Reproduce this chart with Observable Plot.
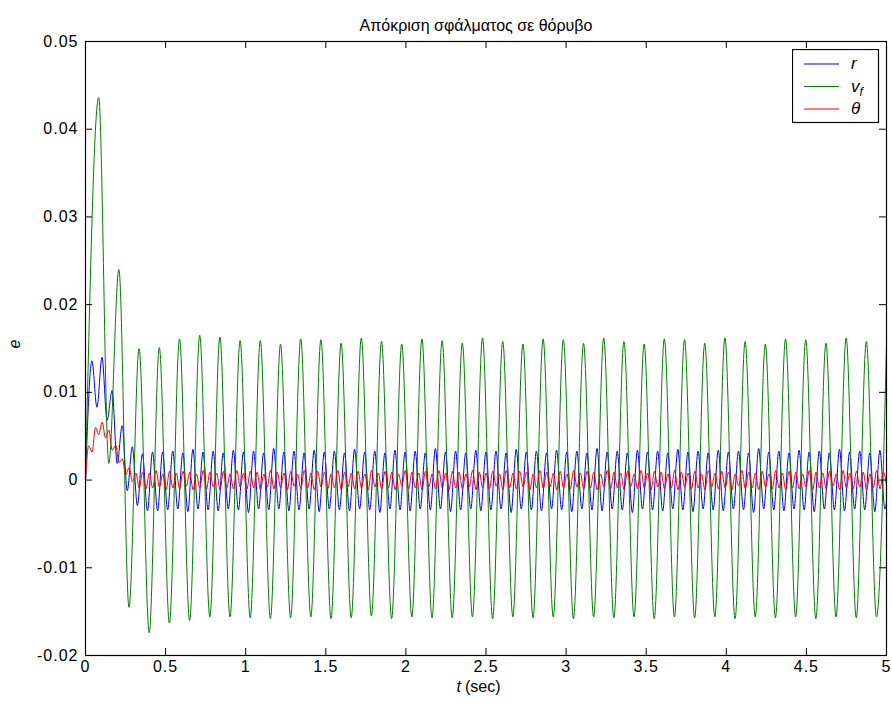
<!DOCTYPE html>
<html>
<head>
<meta charset="utf-8">
<script src="https://cdn.jsdelivr.net/npm/d3@7"></script>
<script src="https://cdn.jsdelivr.net/npm/@observablehq/plot@0.6"></script>
<style>
  html, body { margin: 0; padding: 0; background: #fff; }
  #wrap { position: relative; width: 892px; height: 707px; font-family: "Liberation Sans", Arial, sans-serif; }
  #legend { position: absolute; left: 792px; top: 49px; }
  #chart svg [aria-label="x-axis tick label"] text,
  #chart svg [aria-label="y-axis tick label"] text { letter-spacing: 1px; }
</style>
</head>
<body>
<div id="wrap">
  <div id="chart"></div>
  <div id="legend"></div>
</div>
<script>
// ---- Data ----
const titleText = "Απόκριση σφάλματος σε θόρυβο";
const xTicks = [0, 0.5, 1, 1.5, 2, 2.5, 3, 3.5, 4, 4.5, 5];
const yTicks = [-0.02, -0.01, 0, 0.01, 0.02, 0.03, 0.04, 0.05];
const seriesNames = ["r", "v_f", "θ"];

// Each series: value at t = 0, then successive peak / trough values,
// sampled every half oscillation period (start time and spacing below).
const rStartTime = 0.040, rSpacing = 0.03153;
const rValues = [0,
  0.0136, 0.0083, 0.0140, 0.0068, 0.0102, 0.0019, 0.0062, -0.0012, 0.0038, -0.0029, 0.0030, -0.0035, 0.0032, -0.0035,
  0.0032, -0.0034, 0.0033, -0.0033, 0.0031, -0.0036, 0.0035, -0.0033, 0.0032, -0.0034,
  0.0033, -0.0035, 0.0031, -0.0033, 0.0034, -0.0034, 0.0032, -0.0037, 0.0033, -0.0033,
  0.0031, -0.0034, 0.0036, -0.0033, 0.0032, -0.0035, 0.0033, -0.0034, 0.0031, -0.0033,
  0.0034, -0.0036, 0.0032, -0.0033, 0.0033, -0.0034, 0.0031, -0.0035, 0.0035, -0.0033,
  0.0032, -0.0034, 0.0033, -0.0037, 0.0031, -0.0033, 0.0034, -0.0034, 0.0032, -0.0035,
  0.0033, -0.0033, 0.0031, -0.0034, 0.0036, -0.0033, 0.0032, -0.0036, 0.0033, -0.0034,
  0.0031, -0.0033, 0.0034, -0.0035, 0.0032, -0.0034, 0.0033, -0.0033, 0.0031, -0.0037,
  0.0035, -0.0033, 0.0032, -0.0034, 0.0033, -0.0035, 0.0031, -0.0033, 0.0034, -0.0034,
  0.0032, -0.0036, 0.0033, -0.0033, 0.0031, -0.0034, 0.0036, -0.0035, 0.0032, -0.0033,
  0.0033, -0.0034, 0.0031, -0.0037, 0.0034, -0.0033, 0.0032, -0.0034, 0.0033, -0.0035,
  0.0031, -0.0033, 0.0035, -0.0034, 0.0032, -0.0036, 0.0033, -0.0033, 0.0031, -0.0034,
  0.0034, -0.0035, 0.0032, -0.0033, 0.0033, -0.0034, 0.0031, -0.0037, 0.0036, -0.0033,
  0.0032, -0.0034, 0.0033, -0.0035, 0.0031, -0.0033, 0.0034, -0.0034, 0.0032, -0.0036,
  0.0033, -0.0033, 0.0031, -0.0034, 0.0035, -0.0035, 0.0032, -0.0033, 0.0033, -0.0034,
  0.0031, -0.0036, 0.0034, -0.0033, 0.0032
];

const vfStartTime = 0.0824, vfSpacing = 0.06305;
const vfValues = [0,
  0.0436, 0.0019, 0.0240, -0.0145, 0.0150, -0.0174, 0.0151, -0.0163, 0.0161, -0.0160, 0.0165, -0.0156, 0.0163, -0.0156,
  0.0159, -0.0157, 0.0159, -0.0158, 0.0155, -0.0157, 0.0161, -0.0156, 0.0160, -0.0158, 0.0156, -0.0157, 0.0162, -0.0155,
  0.0158, -0.0158, 0.0155, -0.0156, 0.0161, -0.0157, 0.0159, -0.0157, 0.0156, -0.0156, 0.0162, -0.0158, 0.0158, -0.0156,
  0.0155, -0.0157, 0.0161, -0.0156, 0.0160, -0.0158, 0.0156, -0.0156, 0.0162, -0.0157, 0.0158, -0.0156, 0.0155, -0.0158,
  0.0161, -0.0156, 0.0160, -0.0157, 0.0156, -0.0156, 0.0162, -0.0158, 0.0158, -0.0156, 0.0155, -0.0157, 0.0161, -0.0156,
  0.0160, -0.0158, 0.0156, -0.0156, 0.0162, -0.0157, 0.0158, -0.0156, 0.0158
];

const thStartTime = 0.020, thSpacing = 0.02102;
const thValues = [0,
  0.0039, 0.0032, 0.0060, 0.0052, 0.0066, 0.0048, 0.0057, 0.0034, 0.0040, 0.0020, 0.0024, 0.0006, 0.0014, -0.0002, 0.0008, -0.0009,
  0.0009, -0.0010, 0.0008, -0.0009, 0.0011, -0.0008, 0.0007, -0.0011, 0.0010, -0.0009,
  0.0008, -0.0010, 0.0010, -0.0007, 0.0009, -0.0011, 0.0007, -0.0009, 0.0011, -0.0010,
  0.0009, -0.0008, 0.0008, -0.0011, 0.0010, -0.0009, 0.0007, -0.0010, 0.0011, -0.0008,
  0.0008, -0.0010, 0.0010, -0.0009, 0.0009, -0.0011, 0.0007, -0.0008, 0.0011, -0.0010,
  0.0009, -0.0009, 0.0008, -0.0011, 0.0010, -0.0007, 0.0007, -0.0010, 0.0011, -0.0009,
  0.0008, -0.0011, 0.0010, -0.0008, 0.0009, -0.0010, 0.0007, -0.0009, 0.0011, -0.0011,
  0.0009, -0.0008, 0.0008, -0.0010, 0.0010, -0.0009, 0.0007, -0.0011, 0.0011, -0.0008,
  0.0008, -0.0010, 0.0010, -0.0009, 0.0009, -0.0011, 0.0007, -0.0007, 0.0011, -0.0010,
  0.0009, -0.0009, 0.0008, -0.0011, 0.0010, -0.0008, 0.0007, -0.0010, 0.0011, -0.0009,
  0.0008, -0.0011, 0.0010, -0.0009, 0.0009, -0.0010, 0.0007, -0.0008, 0.0011, -0.0011,
  0.0009, -0.0009, 0.0008, -0.0010, 0.0010, -0.0007, 0.0007, -0.0011, 0.0011, -0.0009,
  0.0008, -0.0010, 0.0010, -0.0008, 0.0009, -0.0011, 0.0007, -0.0009, 0.0011, -0.0010,
  0.0009, -0.0008, 0.0008, -0.0011, 0.0010, -0.0009, 0.0007, -0.0010, 0.0011, -0.0008,
  0.0008, -0.0010, 0.0010, -0.0009, 0.0009, -0.0011, 0.0007, -0.0008, 0.0011, -0.0010,
  0.0009, -0.0009, 0.0008, -0.0011, 0.0010, -0.0007, 0.0007, -0.0010, 0.0011, -0.0009,
  0.0008, -0.0011, 0.0010, -0.0008, 0.0009, -0.0010, 0.0007, -0.0009, 0.0011, -0.0011,
  0.0009, -0.0008, 0.0008, -0.0010, 0.0010, -0.0009, 0.0007, -0.0011, 0.0011, -0.0008,
  0.0008, -0.0010, 0.0010, -0.0009, 0.0009, -0.0011, 0.0007, -0.0007, 0.0011, -0.0010,
  0.0009, -0.0009, 0.0008, -0.0011, 0.0010, -0.0008, 0.0007, -0.0010, 0.0011, -0.0009,
  0.0008, -0.0011, 0.0010, -0.0009, 0.0009, -0.0010, 0.0007, -0.0008, 0.0011, -0.0011,
  0.0009, -0.0009, 0.0008, -0.0010, 0.0010, -0.0007, 0.0007, -0.0011, 0.0011, -0.0009,
  0.0008, -0.0010, 0.0010, -0.0008, 0.0009, -0.0011, 0.0007, -0.0009, 0.0011, -0.0010,
  0.0009, -0.0008
];

// ---- Build tables ----
function toRows(values, start, spacing) {
  return values.map((e, i) => ({ t: i === 0 ? 0 : start + (i - 1) * spacing, e }));
}
const rRows = toRows(rValues, rStartTime, rSpacing);
const vfRows = toRows(vfValues, vfStartTime, vfSpacing);
const thRows = toRows(thValues, thStartTime, thSpacing);

const colors = { r: "#0000ff", v_f: "#008000", "θ": "#ff0000" };

const FONT = "'Liberation Sans', Arial, Helvetica, sans-serif";
const innerW = 892 - 85 - 6, innerH = 707 - 41 - 52;

const chart = Plot.plot({
  width: 892,
  height: 707,
  marginLeft: 85,
  marginRight: 6,
  marginTop: 41,
  marginBottom: 52,
  style: { fontFamily: FONT, fontSize: "16px", color: "#000", background: "#fff", overflow: "visible" },
  x: { domain: [0, 5] },
  y: { domain: [-0.02, 0.05] },
  marks: [
    Plot.line(rRows, { x: "t", y: "e", stroke: colors.r, strokeWidth: 1, curve: "monotone-x", clip: true }),
    Plot.line(vfRows, { x: "t", y: "e", stroke: colors.v_f, strokeWidth: 1, curve: "monotone-x", clip: true }),
    Plot.line(thRows, { x: "t", y: "e", stroke: colors["θ"], strokeWidth: 1, curve: "monotone-x", clip: true }),
    // inward ticks on all four sides
    Plot.tickX(xTicks, { x: d => d, stroke: "#000", insetTop: innerH - 7 }),
    Plot.tickX(xTicks, { x: d => d, stroke: "#000", insetBottom: innerH - 7 }),
    Plot.tickY(yTicks, { y: d => d, stroke: "#000", insetRight: innerW - 7 }),
    Plot.tickY(yTicks, { y: d => d, stroke: "#000", insetLeft: innerW - 7 }),
    Plot.frame({ stroke: "#000", strokeWidth: 1.2 }),
    Plot.axisX({ ticks: xTicks, tickSize: 0, tickPadding: 5, tickFormat: d => String(d), label: null, fontSize: 16 }),
    Plot.axisY({ ticks: yTicks, tickSize: 0, tickPadding: 7, tickFormat: d => String(d), label: null, fontSize: 16 }),
    Plot.text([titleText], { frameAnchor: "top", dy: -22, dx: -10, fontSize: 16, text: d => d }),
    Plot.text(["e"], { frameAnchor: "left", dx: -71, rotate: -90, fontStyle: "italic", fontSize: 16, text: d => d }),
    Plot.text(["t"], { frameAnchor: "bottom", dy: 36, dx: -25, textAnchor: "end", fontStyle: "italic", fontSize: 16, text: d => d }),
    Plot.text(["(sec)"], { frameAnchor: "bottom", dy: 36, dx: -21, textAnchor: "start", fontSize: 16, text: d => d })
  ]
});
document.getElementById("chart").appendChild(chart);

// ---- Legend ----
const ns = "http://www.w3.org/2000/svg";
const leg = document.createElementNS(ns, "svg");
leg.setAttribute("width", 88);
leg.setAttribute("height", 75);
leg.style.fontFamily = FONT;
const box = document.createElementNS(ns, "rect");
box.setAttribute("x", 0.5); box.setAttribute("y", 0.5);
box.setAttribute("width", 86); box.setAttribute("height", 73);
box.setAttribute("fill", "#fff"); box.setAttribute("stroke", "#000");
box.setAttribute("stroke-width", 1.2);
leg.appendChild(box);
seriesNames.forEach((name, i) => {
  const y = 15 + i * 22.5;
  const ln = document.createElementNS(ns, "line");
  ln.setAttribute("x1", 12); ln.setAttribute("x2", 47);
  ln.setAttribute("y1", y); ln.setAttribute("y2", y);
  ln.setAttribute("stroke", colors[name]); ln.setAttribute("stroke-width", 1);
  leg.appendChild(ln);
  const tx = document.createElementNS(ns, "text");
  tx.setAttribute("x", 59); tx.setAttribute("y", y + 5);
  tx.setAttribute("font-size", 17); tx.setAttribute("font-style", "italic");
  if (name === "v_f") {
    tx.appendChild(document.createTextNode("v"));
    const sub = document.createElementNS(ns, "tspan");
    sub.setAttribute("font-size", 12); sub.setAttribute("dy", 4);
    sub.textContent = "f";
    tx.appendChild(sub);
  } else {
    tx.textContent = name;
  }
  leg.appendChild(tx);
});
document.getElementById("legend").appendChild(leg);
</script>
</body>
</html>
